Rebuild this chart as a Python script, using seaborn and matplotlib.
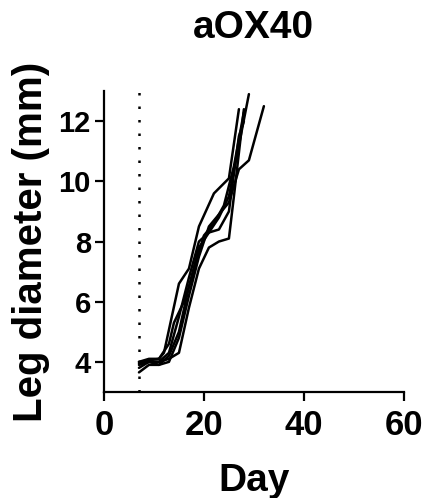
import pandas as pd
import matplotlib.pyplot as plt
import seaborn as sns

# per-mouse leg diameter (mm) by day
days_a = [7, 9, 11, 12, 15, 17, 19, 22, 25, 27]
vals_a = [3.95, 4.05, 4.1, 4.3, 6.6, 7.1, 8.5, 9.6, 10.1, 12.4]
days_b = [7, 9, 11, 13, 15, 17, 19, 21, 23, 25, 27, 29]
vals_b = [3.9, 4.0, 4.0, 4.3, 5.5, 6.8, 8.0, 8.3, 8.8, 9.5, 11.2, 12.9]
days_c = [7, 9, 11, 13, 15, 17, 19, 21, 23, 25, 27, 29, 32]
vals_c = [4.0, 4.0, 3.9, 4.0, 4.8, 6.2, 7.5, 8.5, 8.9, 9.3, 10.4, 10.7, 12.5]
days_d = [7, 9, 11, 13, 15, 17, 19, 21, 23, 25, 26, 28]
vals_d = [3.8, 4.0, 4.0, 4.1, 4.3, 5.8, 7.1, 7.8, 8.0, 8.1, 9.5, 12.4]
days_e = [7, 9, 11, 13, 14, 16, 18, 20, 22, 24, 26, 28]
vals_e = [4.0, 4.1, 4.1, 4.6, 5.3, 6.0, 7.0, 8.2, 8.6, 9.2, 10.5, 12.3]
days_f = [7, 9, 11, 13, 15, 17, 19, 21, 23, 25, 27, 28]
vals_f = [3.65, 3.9, 3.9, 4.2, 5.0, 6.5, 7.8, 8.3, 8.4, 9.0, 11.5, 12.0]

mice = {"A": (days_a, vals_a), "B": (days_b, vals_b), "C": (days_c, vals_c),
        "D": (days_d, vals_d), "E": (days_e, vals_e), "F": (days_f, vals_f)}
rows = []
for m, (d, v) in mice.items():
    for x, y in zip(d, v):
        rows.append({"mouse": m, "day": x, "diameter": y})
df = pd.DataFrame(rows)

treatment_day = 7

sns.set_style("ticks")
plt.rcParams["font.family"] = ["Liberation Sans", "DejaVu Sans"]
plt.rcParams["font.weight"] = "bold"
plt.rcParams["text.color"] = "black"
plt.rcParams["axes.labelcolor"] = "black"

fig = plt.figure(figsize=(4.37, 4.98), dpi=100)
ax = fig.add_axes([0.238, 0.213, 0.686, 0.604])

sns.lineplot(data=df, x="day", y="diameter", units="mouse", estimator=None,
             color="black", linewidth=1.8, sort=False, ax=ax)
ax.axvline(treatment_day, color="black", linewidth=1.8, linestyle=(0, (1, 4.4)))

ax.set_xlim(0, 60)
ax.set_ylim(3, 13)
ax.set_xticks([0, 20, 40, 60])
ax.set_yticks([4, 6, 8, 10, 12])
sns.despine(ax=ax)
for s in ["left", "bottom"]:
    ax.spines[s].set_linewidth(1.6)
    ax.spines[s].set_color("black")
ax.tick_params(width=1.6, length=6.5, colors="black")
ax.tick_params(axis="x", labelsize=25, pad=6)
ax.tick_params(axis="y", labelsize=21, pad=3)
for lab in ax.get_xticklabels() + ax.get_yticklabels():
    lab.set_fontweight("bold")

ax.set_xlabel("Day", fontsize=28, fontweight="bold", labelpad=15)
ax.set_ylabel("Leg diameter (mm)", fontsize=29, fontweight="bold", labelpad=6)
ax.set_title("aOX40", fontsize=28, fontweight="bold", pad=38)

fig.savefig("out.png", dpi=100)
